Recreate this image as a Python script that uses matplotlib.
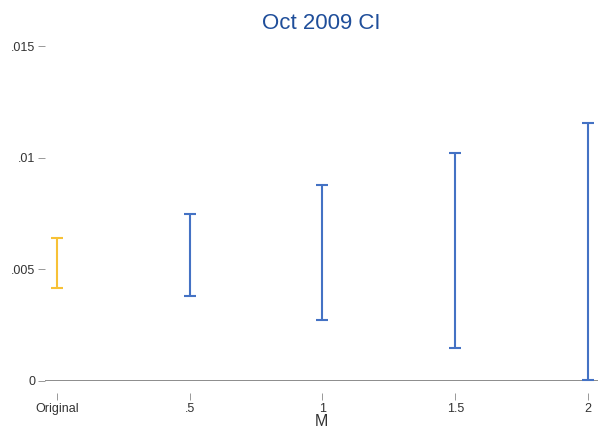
import matplotlib
matplotlib.use("Agg")
import matplotlib.pyplot as plt
from matplotlib.ticker import FuncFormatter
import numpy as np

plt.rcParams['font.family'] = ['Liberation Sans', 'DejaVu Sans']

# Confidence intervals by M
labels = ["Original", ".5", "1", "1.5", "2"]
ci_low = [0.00414, 0.00380, 0.00273, 0.00145, 0.00002]
ci_high = [0.00639, 0.00746, 0.00878, 0.01020, 0.01157]
colors = ["#f7c136", "#4472c4", "#4472c4", "#4472c4", "#4472c4"]

y_ticks = [0, 0.005, 0.01, 0.015]

fig = plt.figure(figsize=(5.98, 4.30), dpi=100)
left_px = 45
ax = fig.add_axes([left_px / 598, 0.1147, 1 - left_px / 598, 0.893 - 0.1147])

x = np.arange(len(labels))
lo = np.array(ci_low)
hi = np.array(ci_high)
for xi, l, h, c in zip(x, lo, hi, colors):
    ax.errorbar([xi], [(l + h) / 2], yerr=[[(h - l) / 2], [(h - l) / 2]],
                fmt='none', ecolor=c, elinewidth=1.5, capsize=4, capthick=1.5)

ax.set_xlim(-(57 - left_px) / 133, 4 + 10 / 133)
ax.set_ylim(0, 0.015)

# x axis line at zero, ticks pushed below it with a small gap
ax.axhline(0, color="#8c8c8c", lw=1.4, zorder=0)
for side in ['top', 'right', 'left', 'bottom']:
    ax.spines[side].set_visible(False)
ax.spines['bottom'].set_position(('outward', 9))

ax.set_xticks(x)
ax.set_xticklabels(labels)
ax.set_yticks(y_ticks)
ax.yaxis.set_major_formatter(FuncFormatter(
    lambda v, p: "0" if v == 0 else ("%g" % v).lstrip("0")))

ax.tick_params(axis='x', length=5, width=0.6, color="#888888", pad=2,
               labelsize=9, labelcolor="#333333")
ax.tick_params(axis='y', length=5, width=0.6, color="#888888", pad=2,
               labelsize=9, labelcolor="#333333")

ax.set_xlabel("M", fontsize=11.5, color="#333333", labelpad=-1)
ax.set_title("Oct 2009 CI", fontsize=16, color="#1f4e9a", pad=12)

fig.savefig("out.png", dpi=100)
